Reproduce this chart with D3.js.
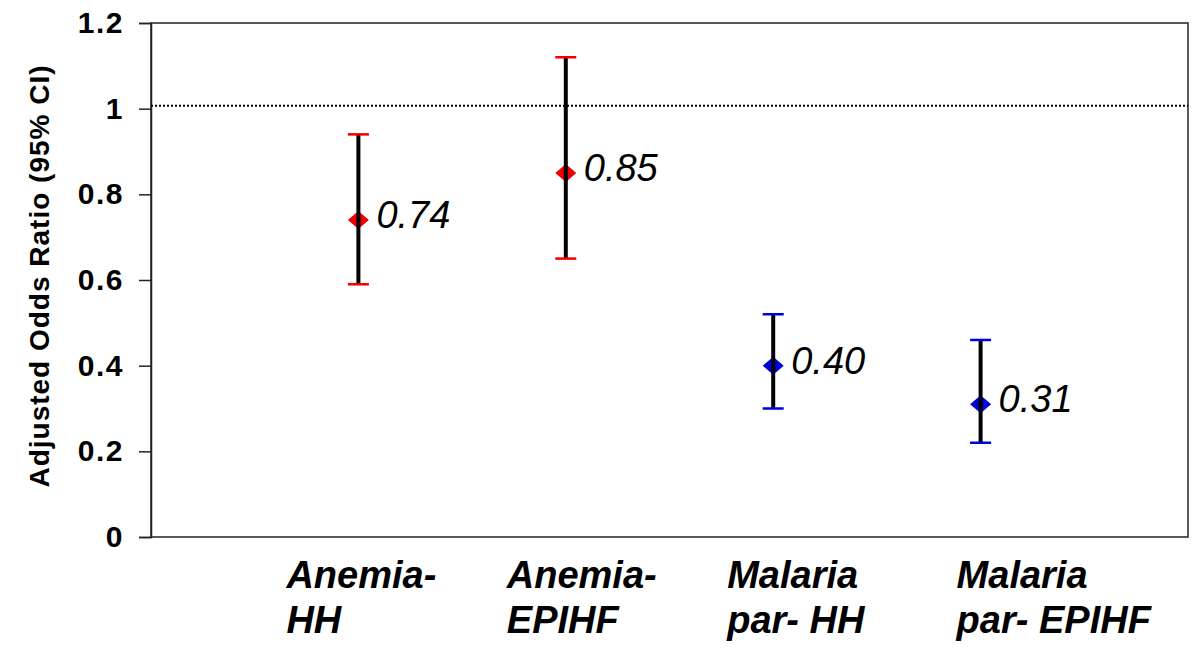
<!DOCTYPE html>
<html>
<head>
<meta charset="utf-8">
<script src="https://cdn.jsdelivr.net/npm/d3@7/dist/d3.min.js"></script>
<style>
  html, body { margin: 0; padding: 0; background: #fff; }
  svg { display: block; font-family: "Liberation Sans", Arial, Helvetica, sans-serif; }
</style>
</head>
<body>
<svg id="chart" width="1200" height="659"></svg>
<script>
// ---- data ----
const categories = [["Anemia-", "HH"], ["Anemia-", "EPIHF"], ["Malaria", "par- HH"], ["Malaria", "par- EPIHF"]];
const oddsRatio = [0.74, 0.85, 0.40, 0.31];
const ciLower = [0.59, 0.65, 0.30, 0.22];
const ciUpper = [0.94, 1.12, 0.52, 0.46];
const valueLabels = ["0.74", "0.85", "0.40", "0.31"];
const seriesGroup = ["anemia", "anemia", "malaria", "malaria"];
const yTicks = [0, 0.2, 0.4, 0.6, 0.8, 1, 1.2];
const yTickLabels = ["0", "0.2", "0.4", "0.6", "0.8", "1", "1.2"];
const referenceValue = 1.007;
const yTitle = "Adjusted Odds Ratio (95% CI)";

// ---- layout / style ----
const colors = { anemia: "#ee0000", malaria: "#0000dd" };
const labelDx = [-72, -59, -46, -24];
const plot = { left: 151, right: 1188, top: 23, bottom: 537 };

const svg = d3.select("#chart");
const x = d3.scaleLinear().domain([0, categories.length + 1]).range([plot.left, plot.right]);
const y = d3.scaleLinear().domain([0, 1.2]).range([plot.bottom, plot.top]);

const data = oddsRatio.map((v, i) => ({
  i, v, lo: ciLower[i], hi: ciUpper[i], label: valueLabels[i], group: seriesGroup[i], cat: categories[i]
}));

// plot frame
svg.append("rect")
  .attr("x", plot.left).attr("y", plot.top)
  .attr("width", plot.right - plot.left).attr("height", plot.bottom - plot.top)
  .attr("fill", "none").attr("stroke", "#222").attr("stroke-width", 1.5);

// y axis
const yAxis = d3.axisLeft(y).tickValues(yTicks).tickSize(12).tickPadding(15)
  .tickFormat((d, i) => yTickLabels[i]);
const gy = svg.append("g").attr("transform", `translate(${plot.left},0)`).call(yAxis);
gy.select(".domain").attr("stroke", "#222").attr("stroke-width", 1.5);
gy.selectAll(".tick line").attr("stroke", "#222").attr("stroke-width", 1.5);
gy.selectAll(".tick text")
  .attr("font-size", 30).attr("font-weight", "bold").attr("fill", "#000")
  .attr("letter-spacing", 1.5)
  .attr("font-family", "'Liberation Sans', Arial, Helvetica, sans-serif");

// y title
svg.append("text")
  .attr("transform", `translate(49,${(plot.top + plot.bottom) / 2 - 4}) rotate(-90)`)
  .attr("text-anchor", "middle")
  .attr("font-size", 28).attr("font-weight", "bold").attr("fill", "#000")
  .attr("letter-spacing", 1)
  .text(yTitle);

// reference line
svg.append("line")
  .attr("x1", plot.left).attr("x2", plot.right)
  .attr("y1", y(referenceValue)).attr("y2", y(referenceValue))
  .attr("stroke", "#000").attr("stroke-width", 2).attr("stroke-dasharray", "2,2");

// markers (diamonds, slightly wider than tall)
const dw = 10.5, dh = 9;
const diamondPath = `M${-dw},0L0,${-dh}L${dw},0L0,${dh}Z`;
svg.selectAll(".marker").data(data).enter().append("path")
  .attr("class", "marker")
  .attr("d", diamondPath)
  .attr("transform", d => `translate(${x(d.i + 1)},${y(d.v)})`)
  .attr("fill", d => colors[d.group]);

// error bars
svg.selectAll(".ebar").data(data).enter().append("line")
  .attr("class", "ebar")
  .attr("x1", d => x(d.i + 1)).attr("x2", d => x(d.i + 1))
  .attr("y1", d => y(d.lo)).attr("y2", d => y(d.hi))
  .attr("stroke", "#000").attr("stroke-width", 4);

const capHalf = 10.5;
["lo", "hi"].forEach(k => {
  svg.selectAll(".cap-" + k).data(data).enter().append("line")
    .attr("class", "cap-" + k)
    .attr("x1", d => x(d.i + 1) - capHalf).attr("x2", d => x(d.i + 1) + capHalf)
    .attr("y1", d => y(d[k])).attr("y2", d => y(d[k]))
    .attr("stroke", d => colors[d.group]).attr("stroke-width", 2.5);
});

// value labels
svg.selectAll(".vlabel").data(data).enter().append("text")
  .attr("class", "vlabel")
  .attr("x", d => x(d.i + 1) + 18)
  .attr("y", d => y(d.v) + 8)
  .attr("font-size", 38).attr("font-style", "italic").attr("fill", "#000")
  .text(d => d.label);

// category labels
const cl = svg.selectAll(".clabel").data(data).enter().append("text")
  .attr("class", "clabel")
  .attr("font-size", 38).attr("font-style", "italic").attr("font-weight", "bold").attr("fill", "#000");
cl.append("tspan").attr("x", d => x(d.i + 1) + labelDx[d.i]).attr("y", 588).text(d => d.cat[0]);
cl.append("tspan").attr("x", d => x(d.i + 1) + labelDx[d.i]).attr("y", 633).text(d => d.cat[1]);
</script>
</body>
</html>
